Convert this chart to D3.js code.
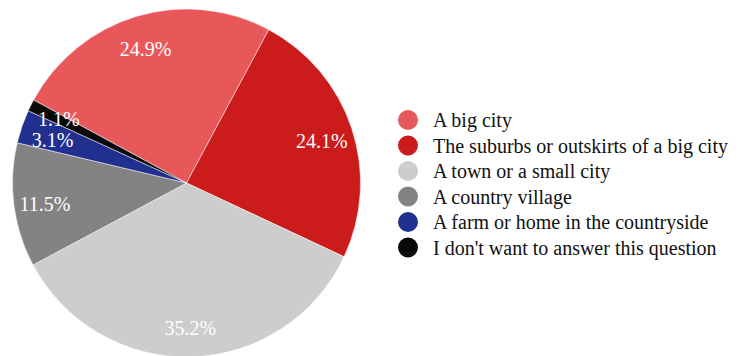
<!DOCTYPE html>
<html>
<head>
<meta charset="utf-8">
<script src="https://cdn.jsdelivr.net/npm/d3@7"></script>
<style>
  body { margin: 0; background: #fff; }
  svg { display: block; }
  text { font-family: 'Liberation Serif', 'DejaVu Serif', serif; }
</style>
</head>
<body>
<svg></svg>
<script>
const categories = [
    "A big city",
    "The suburbs or outskirts of a big city",
    "A town or a small city",
    "A country village",
    "A farm or home in the countryside",
    "I don't want to answer this question"
];
const shares = [24.9, 24.1, 35.2, 11.5, 3.1, 1.1];
const colors = ["#e8585b", "#cb1b1b", "#cdcdcc", "#838383", "#21308f", "#0a0a0a"];

const data = categories.map((c, i) => ({ option: c, value: shares[i], color: colors[i] }));

const width = 751, height = 356;
const svg = d3.select('svg').attr('width', width).attr('height', height);

// pie
const cx = 186.5, cy = 183, radius = 174;
const start = -61.5 * Math.PI / 180;
const pie = d3.pie().sort(null).value(d => d.value)
    .startAngle(start).endAngle(start + 2 * Math.PI);
const arc = d3.arc().innerRadius(0).outerRadius(radius);
const labelArc = d3.arc().innerRadius(radius * 0.82).outerRadius(radius * 0.82);

const g = svg.append('g').attr('transform', `translate(${cx},${cy})`);
const slices = pie(data);

g.selectAll('.slice').data(slices).enter().append('path')
    .attr('class', 'slice')
    .attr('d', arc)
    .style('fill', d => d.data.color)
    .style('stroke', '#fff')
    .style('stroke-width', 0.5);

// small slices get nudged labels so they don't collide
const labelShift = { 4: [1, 1], 5: [0, -3] };
g.selectAll('.lbl').data(slices).enter().append('text')
    .attr('class', 'lbl')
    .attr('transform', (d, i) => {
        const p = labelArc.centroid(d);
        const s = labelShift[i] || [0, 0];
        return `translate(${p[0] + s[0]},${p[1] + s[1]})`;
    })
    .attr('text-anchor', 'middle')
    .attr('dy', '0.48em')
    .style('font-size', '20px')
    .style('fill', '#fff')
    .text(d => d.data.value.toFixed(1) + '%');

// legend
const legend = svg.append('g').attr('transform', 'translate(408,120)');
const row = legend.selectAll('.row').data(data).enter().append('g')
    .attr('class', 'row')
    .attr('transform', (d, i) => `translate(0,${i * 25.5})`);
row.append('circle').attr('r', 10).style('fill', d => d.color);
row.append('text')
    .attr('x', 25)
    .attr('dy', '0.35em')
    .style('font-size', '20px')
    .style('fill', '#111')
    .text(d => d.option);
</script>
</body>
</html>
